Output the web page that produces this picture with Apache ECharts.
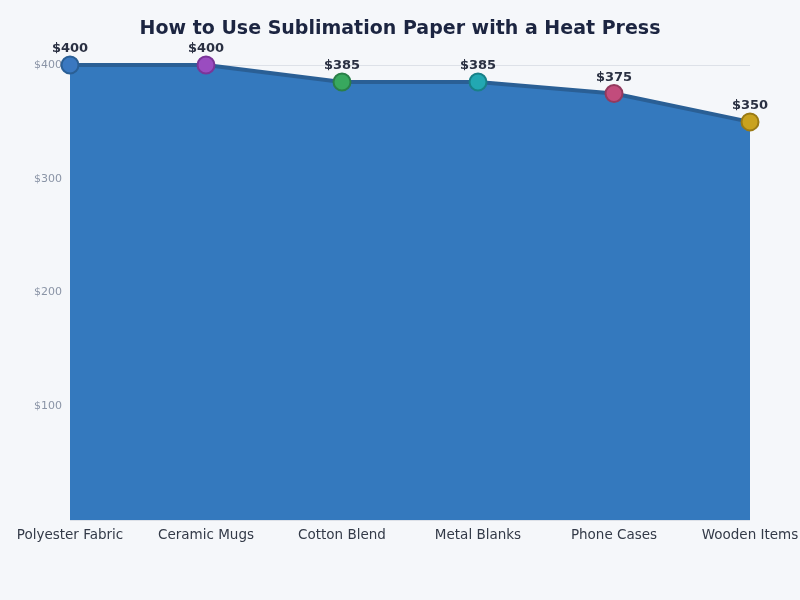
<!DOCTYPE html>
<html>
<head>
<meta charset="utf-8">
<script src="https://cdn.jsdelivr.net/npm/echarts@6/dist/echarts.min.js"></script>
<style>
  html, body { margin: 0; padding: 0; background: #f5f7fa; }
  #main { width: 800px; height: 600px; }
</style>
</head>
<body>
<div id="main"></div>
<script>
var categories = ['Polyester Fabric', 'Ceramic Mugs', 'Cotton Blend', 'Metal Blanks', 'Phone Cases', 'Wooden Items'];
var prices = [400, 400, 385, 385, 375, 350];
var pointColors = ['#3a78c0', '#9a4cc0', '#38a85e', '#22a8b2', '#c24c7c', '#c9a21e'];
var pointBorders = ['#2a5f95', '#7a3598', '#2a7f48', '#188088', '#933a5e', '#9a7a14'];

var chart = echarts.init(document.getElementById('main'));

// each point gets its own colour
var seriesData = [];
for (var i = 0; i < prices.length; i++) {
    seriesData.push({
        value: prices[i],
        itemStyle: { color: pointColors[i], borderColor: pointBorders[i], borderWidth: 2 }
    });
}

var option = {
    backgroundColor: '#f5f7fa',
    title: {
        text: 'How to Use Sublimation Paper with a Heat Press',
        left: 'center',
        top: 15,
        textStyle: { fontSize: 19, fontWeight: 'bold', color: '#1c2541', fontFamily: 'DejaVu Sans' }
    },
    grid: { left: 70, right: 50, top: 65, bottom: 80, containLabel: false, outerBoundsMode: 'none' },
    xAxis: {
        type: 'category',
        data: categories,
        boundaryGap: false,
        axisLine: { show: false },
        axisTick: { show: false },
        axisLabel: { interval: 0, hideOverlap: false, color: '#333a48', fontSize: 13.5, margin: 8, fontFamily: 'DejaVu Sans' }
    },
    yAxis: {
        type: 'value',
        min: 0,
        max: 400,
        interval: 100,
        axisLine: { show: false },
        axisTick: { show: false },
        splitLine: { lineStyle: { color: '#dde1e8' } },
        axisLabel: {
            color: '#8a94a6', fontSize: 11, margin: 8, fontFamily: 'DejaVu Sans',
            formatter: function (v) { return v === 0 ? '' : '$' + v; }
        }
    },
    series: [{
        type: 'line',
        data: seriesData,
        symbol: 'circle',
        symbolSize: 17,
        lineStyle: { color: '#2a5f95', width: 4 },
        areaStyle: { color: '#3479be', opacity: 1 },
        label: {
            show: true,
            position: 'top',
            distance: 0,
            color: '#2a3042',
            fontSize: 13,
            fontWeight: 'bold',
            fontFamily: 'DejaVu Sans',
            formatter: function (p) { return '$' + p.value; }
        }
    }]
};

chart.setOption(option);
</script>
</body>
</html>
